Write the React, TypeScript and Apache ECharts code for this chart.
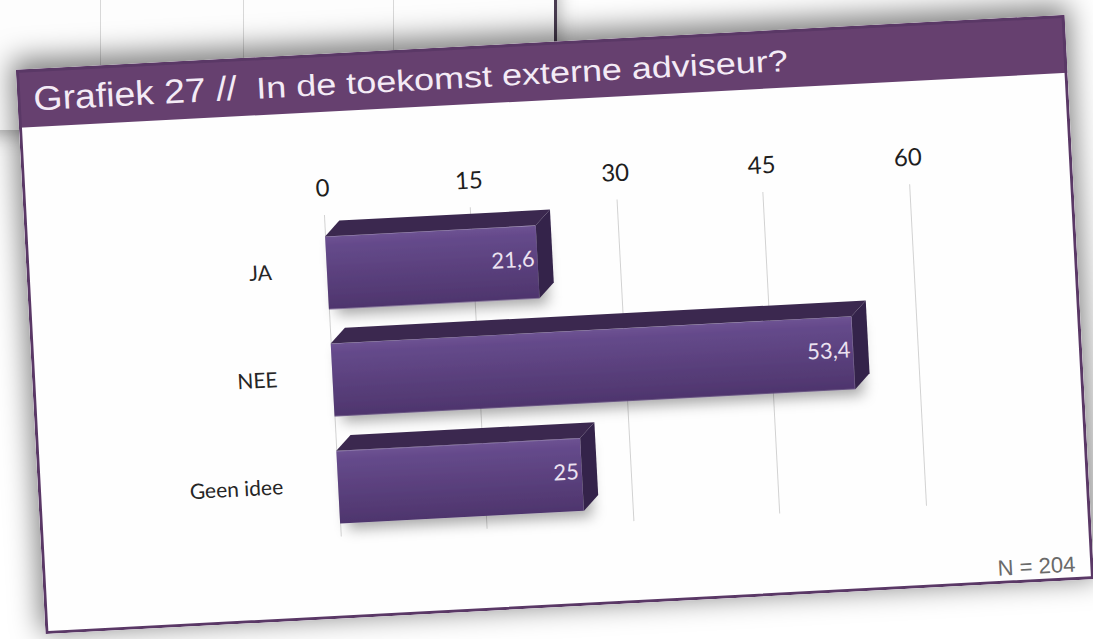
import React, { useEffect, useRef } from 'react';
import * as echarts from 'echarts';

const categories = ['JA', 'NEE', 'Geen idee'];
const values = [21.6, 53.4, 25];
const xMin = 0;
const xMax = 60;
const xStep = 15;
const titleMain = 'Grafiek 27 //';
const titleSub = 'In de toekomst externe adviseur?';
const footnote = 'N = 204';

const W = 1050;
const H = 565;

const fmt = (v: number) => String(v).replace('.', ',');

export default function App() {
  const ref = useRef<HTMLDivElement>(null);

  useEffect(() => {
    const chart = echarts.init(ref.current!, null, { renderer: 'svg', width: W, height: H });

    const frontGrad = new echarts.graphic.LinearGradient(0, 0, 0, 1, [
      { offset: 0, color: '#6e5393' },
      { offset: 0.12, color: '#654a8b' },
      { offset: 1, color: '#4e356d' },
    ]);

    const renderItem = (params: any, api: any) => {
      const v = api.value(0);
      const ci = api.value(1);
      const p0 = api.coord([0, ci]);
      const p1 = api.coord([v, ci]);
      const band = api.size([0, 1])[1];
      const fh = band * 0.68;
      const d = band * 0.14;
      const x0 = p0[0];
      const x1 = p1[0];
      const yc = p0[1] + band * 0.04;
      const yt = yc - fh / 2;
      const yb = yc + fh / 2;
      return {
        type: 'group',
        children: [
          {
            type: 'rect',
            shape: { x: x0, y: yt, width: x1 - x0, height: fh },
            style: {
              fill: frontGrad,
              shadowBlur: 14,
              shadowColor: 'rgba(0,0,0,0.35)',
              shadowOffsetX: 8,
              shadowOffsetY: 6,
            },
          },
          {
            type: 'polygon',
            shape: { points: [[x0, yt], [x0 + d, yt - d], [x1 + d, yt - d], [x1, yt]] },
            style: { fill: '#3b284f' },
          },
          {
            type: 'polygon',
            shape: { points: [[x1, yt], [x1 + d, yt - d], [x1 + d, yb - d], [x1, yb]] },
            style: { fill: '#34234a' },
          },
          {
            type: 'text',
            style: {
              text: fmt(v),
              x: x1 - 3,
              y: yc - 4,
              align: 'right',
              verticalAlign: 'middle',
              fill: '#ece3f1',
              fontSize: 22,
              fontFamily: 'Lato',
            },
          },
        ],
      };
    };

    chart.setOption({
      animation: false,
      backgroundColor: '#fefefe',
      grid: { left: 300, right: 164, top: 161, bottom: 82 },
      xAxis: {
        type: 'value',
        position: 'top',
        min: xMin,
        max: xMax,
        interval: xStep,
        axisLine: { show: false },
        axisTick: { show: false },
        axisLabel: { margin: 16, fontSize: 24, fontFamily: 'Lato', color: '#1e1e1e' },
        splitLine: { lineStyle: { color: '#d2d2d2', width: 1 } },
      },
      yAxis: {
        type: 'category',
        inverse: true,
        data: categories,
        axisLine: { show: false },
        axisTick: { show: false },
        axisLabel: { margin: 55, fontSize: 21, fontFamily: 'Lato', color: '#262626' },
      },
      graphic: [
        {
          type: 'rect',
          shape: { x: 0, y: 0, width: W, height: 58 },
          style: { fill: '#66406f' },
        },
        {
          type: 'text',
          x: 16,
          y: 30,
          scaleX: 1.1,
          style: {
            text: titleMain,
            fontSize: 34,
            fontFamily: 'Liberation Sans',
            fill: '#f4ebf6',
            verticalAlign: 'middle',
          },
        },
        {
          type: 'text',
          x: 239,
          y: 31,
          scaleX: 1.2,
          style: {
            text: titleSub,
            fontSize: 30,
            fontFamily: 'Liberation Sans',
            fill: '#f4ebf6',
            verticalAlign: 'middle',
          },
        },
        {
          type: 'text',
          x: 1032,
          y: 549,
          style: {
            text: footnote,
            fontSize: 22,
            fontFamily: 'Liberation Sans',
            fill: '#6a6a6a',
            align: 'right',
            verticalAlign: 'middle',
          },
        },
        {
          type: 'rect',
          z: 100,
          shape: { x: 1.5, y: 1.5, width: W - 3, height: H - 3 },
          style: { fill: 'none', stroke: '#5a3866', lineWidth: 3 },
        },
      ],
      series: [
        {
          type: 'custom',
          renderItem,
          encode: { x: 0, y: 1 },
          data: values.map((v, i) => [v, i]),
        },
      ],
    });

    return () => chart.dispose();
  }, []);

  return (
    <div
      style={{
        position: 'fixed',
        left: 0,
        top: 0,
        width: 1093,
        height: 639,
        overflow: 'hidden',
        background: '#ffffff',
      }}
    >
      <div
        style={{
          position: 'absolute',
          left: -20,
          top: -20,
          width: 574,
          height: 150,
          background: '#fdfdfd',
          borderRight: '3px solid #4a3d52',
          boxShadow: '0 4px 18px rgba(0,0,0,0.35)',
        }}
      >
        <div style={{ position: 'absolute', left: 120, top: 0, width: 1, height: 150, background: '#d8d8d8' }} />
        <div style={{ position: 'absolute', left: 263, top: 0, width: 1, height: 150, background: '#d8d8d8' }} />
        <div style={{ position: 'absolute', left: 413, top: 0, width: 1, height: 150, background: '#d8d8d8' }} />
      </div>
      <div
        ref={ref}
        style={{
          position: 'absolute',
          left: 30,
          top: 42,
          width: W,
          height: H,
          transform: 'rotate(-3deg)',
          boxShadow: '0 -6px 28px 4px rgba(0,0,0,0.5)',
          background: '#fefefe',
        }}
      />
    </div>
  );
}
